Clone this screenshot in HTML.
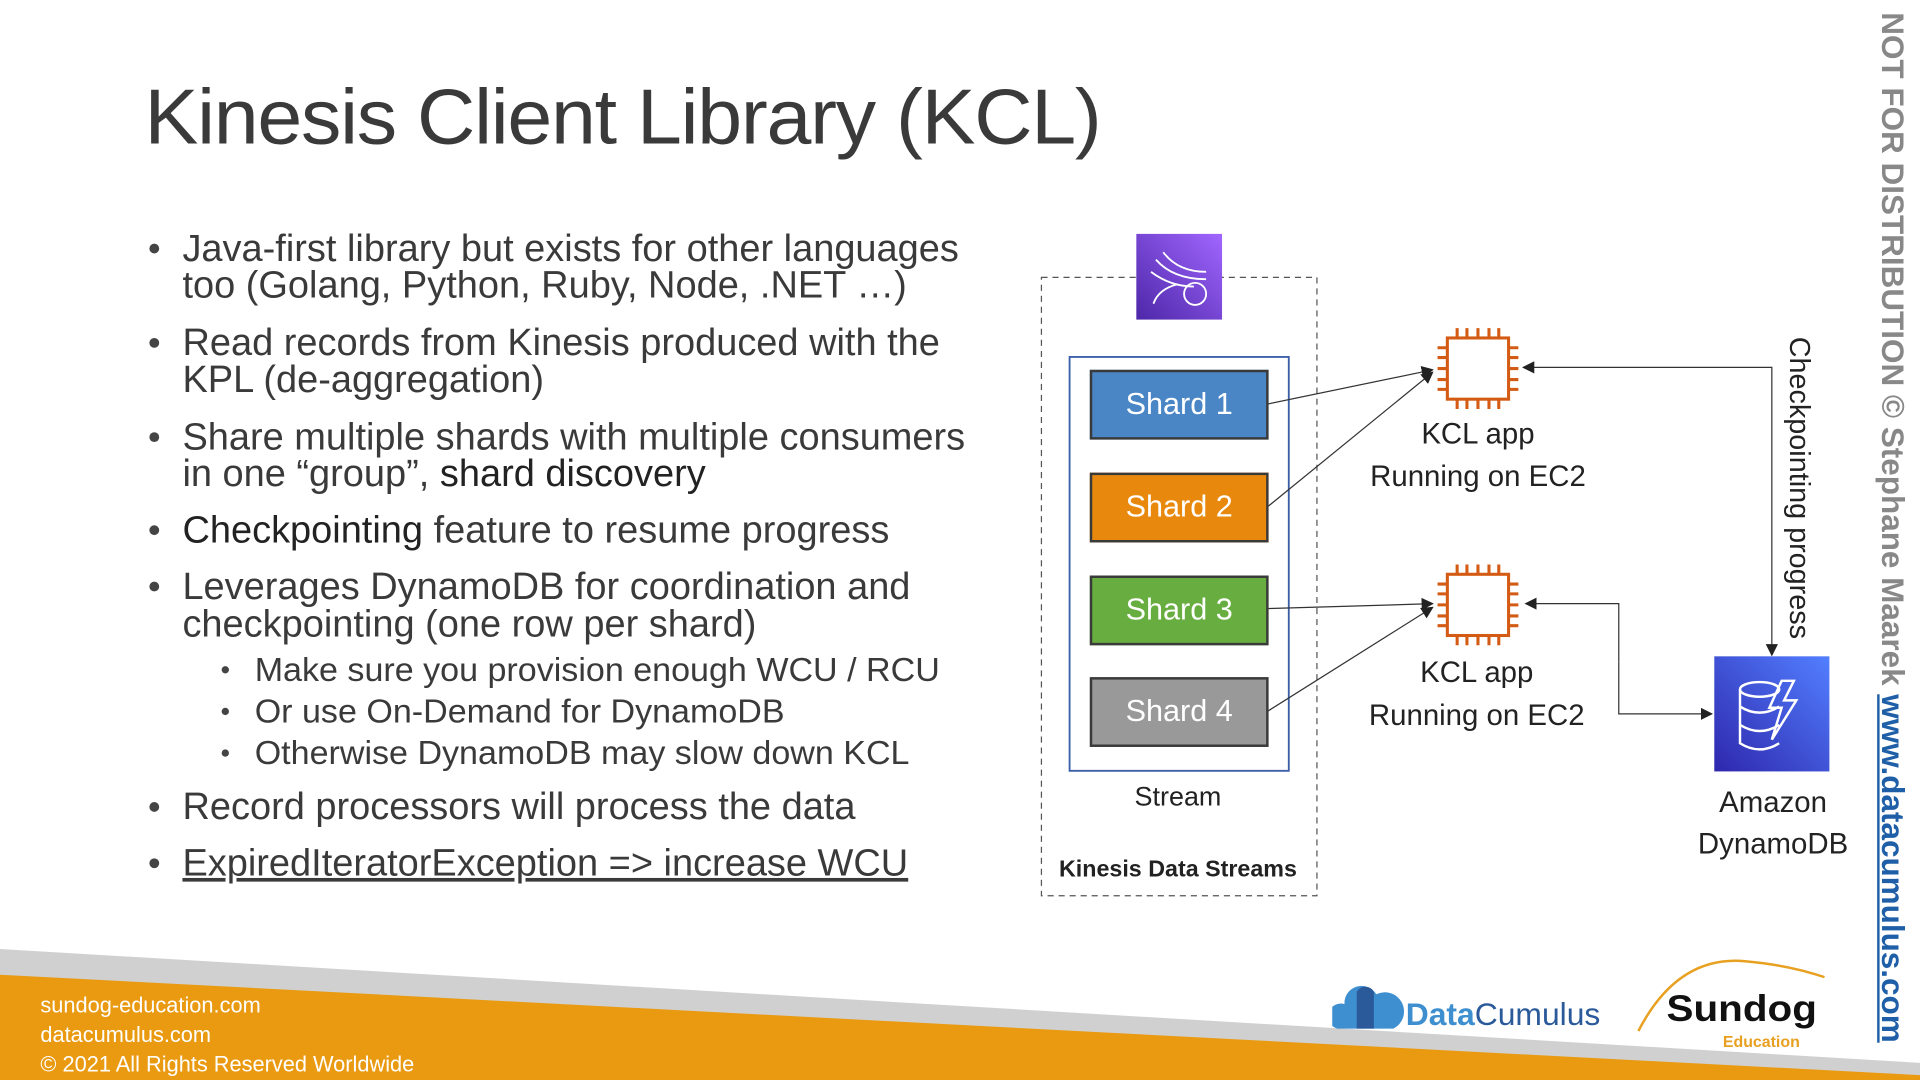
<!DOCTYPE html>
<html><head><meta charset="utf-8"><style>
html,body{margin:0;padding:0;background:#fff;width:1920px;height:1080px;overflow:hidden}
#w{position:absolute;left:0;top:0;width:1568px;height:882px;transform:scale(1.22449);transform-origin:0 0;font-family:"Liberation Sans",sans-serif;color:#333}
.a{position:absolute;white-space:nowrap}
.l{position:absolute;white-space:nowrap;font-size:31px;transform:scaleX(1.0);transform-origin:0 50%;line-height:36px;color:#3a3a3a}
.s{font-size:27px;transform:scaleX(1.03)}
.dot{position:absolute;width:8px;height:8px;border-radius:50%;background:#444}
.sd{position:absolute;width:6px;height:6px;border-radius:50%;background:#444}
.sh{position:absolute;left:890px;width:142px;height:53px;border:2px solid #3a3a3a;color:#fff;font-size:25px;text-align:center;line-height:53px}
.c{position:absolute;text-align:center;font-size:24px;color:#222;white-space:nowrap;transform:translateX(-50%)}
</style></head><body><div id="w">
<div class="a" style="left:118px;top:58px;font-size:64px;color:#3a3a3a;transform:scaleX(1.03);transform-origin:0 0;letter-spacing:-1px">Kinesis Client Library (KCL)</div>

<div class="dot" style="left:122px;top:199px"></div>
<div class="l" style="left:149px;top:185px">Java-first library but exists for other languages</div>
<div class="l" style="left:149px;top:215px">too (Golang, Python, Ruby, Node, .NET …)</div>
<div class="dot" style="left:122px;top:276px"></div>
<div class="l" style="left:149px;top:262px">Read records from Kinesis produced with the</div>
<div class="l" style="left:149px;top:292px">KPL (de-aggregation)</div>
<div class="dot" style="left:122px;top:353px"></div>
<div class="l" style="left:149px;top:339px">Share multiple shards with multiple consumers</div>
<div class="l" style="left:149px;top:369px">in one “group”, <span style="color:#222">shard discovery</span></div>
<div class="dot" style="left:122px;top:429px"></div>
<div class="l" style="left:149px;top:415px"><span style="color:#222">Checkpointing</span> feature to resume progress</div>
<div class="dot" style="left:122px;top:475px"></div>
<div class="l" style="left:149px;top:461px">Leverages DynamoDB for coordination and</div>
<div class="l" style="left:149px;top:492px">checkpointing (one row per shard)</div>
<div class="sd" style="left:181px;top:544px"></div>
<div class="l s" style="left:208px;top:529px">Make sure you provision enough WCU / RCU</div>
<div class="sd" style="left:181px;top:578px"></div>
<div class="l s" style="left:208px;top:563px">Or use On-Demand for DynamoDB</div>
<div class="sd" style="left:181px;top:612px"></div>
<div class="l s" style="left:208px;top:597px">Otherwise DynamoDB may slow down KCL</div>
<div class="dot" style="left:122px;top:655px"></div>
<div class="l" style="left:149px;top:641px">Record processors will process the data</div>
<div class="dot" style="left:122px;top:701px"></div>
<div class="l" style="left:149px;top:687px;text-decoration:underline">ExpiredIteratorException =&gt; increase WCU</div>

<svg class="a" style="left:0;top:0" width="1568" height="882">
<defs><marker id="ar" markerWidth="10" markerHeight="10" refX="9" refY="5" orient="auto" markerUnits="userSpaceOnUse"><path d="M0,0 L10,5 L0,10 z" fill="#222"/></marker>
<linearGradient id="kg" x1="0" y1="1" x2="1" y2="0"><stop offset="0" stop-color="#4d27a8"/><stop offset="1" stop-color="#a166ff"/></linearGradient>
<linearGradient id="dg" x1="0" y1="1" x2="1" y2="0"><stop offset="0" stop-color="#2e27ad"/><stop offset="1" stop-color="#527fff"/></linearGradient></defs>
<polygon points="0,775 1568,868 1568,882 0,882" fill="#d0d0d0"/>
<polygon points="0,796 1568,878 1568,882 0,882" fill="#ea9a10"/>
<rect x="850.5" y="226.5" width="225" height="505" fill="none" stroke="#555" stroke-dasharray="5,4"/>
<rect x="928" y="191" width="70" height="70" fill="url(#kg)"/>
<g fill="none" stroke="#fff" stroke-width="1.5"><path d="M950,206 Q962,222 985,222"/><path d="M944,212 Q958,228 985,228"/><path d="M940,222 Q956,234 975,234"/><path d="M942,248 Q946,236 962,232"/><circle cx="976" cy="240" r="9"/></g>
<rect x="873.5" y="291.5" width="179" height="338" fill="none" stroke="#3a5ea8" stroke-width="1.5"/>
<g stroke="#333" stroke-width="1" fill="none" marker-end="url(#ar)">
<line x1="1035" y1="330" x2="1170" y2="302"/>
<line x1="1035" y1="414" x2="1170" y2="304"/>
<line x1="1035" y1="497" x2="1170" y2="493"/>
<line x1="1035" y1="581" x2="1170" y2="496"/>
<polyline points="1447,450 1447,300 1244,300"/>
<polyline points="1447,450 1447,535"/>
<polyline points="1322,540 1322,493 1246,493"/>
<polyline points="1322,540 1322,583 1398,583"/>
</g>
<g fill="none" stroke="#d45b14" stroke-width="2.5">
<rect x="1182" y="276" width="50" height="50"/>
<path d="M1190,276v-8M1198,276v-8M1207,276v-8M1216,276v-8M1224,276v-8M1190,326v8M1198,326v8M1207,326v8M1216,326v8M1224,326v8M1182,284h-8M1182,292h-8M1182,301h-8M1182,310h-8M1182,318h-8M1232,284h8M1232,292h8M1232,301h8M1232,310h8M1232,318h8"/>
<rect x="1182" y="469" width="50" height="50"/>
<path d="M1190,469v-8M1198,469v-8M1207,469v-8M1216,469v-8M1224,469v-8M1190,519v8M1198,519v8M1207,519v8M1216,519v8M1224,519v8M1182,477h-8M1182,485h-8M1182,494h-8M1182,503h-8M1182,511h-8M1232,477h8M1232,485h8M1232,494h8M1232,503h8M1232,511h8"/>
</g>
<rect x="1400" y="536" width="94" height="94" fill="url(#dg)"/>
<g fill="none" stroke="#fff" stroke-width="2"><ellipse cx="1437" cy="563" rx="16" ry="6"/><path d="M1421,563v44q16,10 32,0"/><path d="M1421,577q16,10 32,0M1421,592q16,10 32,0"/><path d="M1455,556l-10,22h10l-8,26 20-32h-10l8-16z"/></g>
</svg>

<div class="sh" style="top:302px;background:#4a86c5">Shard 1</div>
<div class="sh" style="top:386px;background:#e8890e">Shard 2</div>
<div class="sh" style="top:470px;background:#67ad3f">Shard 3</div>
<div class="sh" style="top:553px;background:#999">Shard 4</div>
<div class="c" style="left:962px;top:638px;font-size:22px">Stream</div>
<div class="c" style="left:962px;top:700px;font-size:19px;font-weight:bold">Kinesis Data Streams</div>
<div class="c" style="left:1207px;top:341px">KCL app</div>
<div class="c" style="left:1207px;top:376px">Running on EC2</div>
<div class="c" style="left:1206px;top:536px">KCL app</div>
<div class="c" style="left:1206px;top:571px">Running on EC2</div>
<div class="c" style="left:1448px;top:642px">Amazon</div>
<div class="c" style="left:1448px;top:676px">DynamoDB</div>
<div class="a" style="left:1457px;top:275px;font-size:23.5px;color:#222;transform-origin:0 0;transform:rotate(90deg) translateY(-26px)">Checkpointing progress</div>
<div class="a" style="left:1530px;top:10px;font-size:25.7px;font-weight:bold;color:#888;transform-origin:0 0;transform:rotate(90deg) translateY(-29px)">NOT FOR DISTRIBUTION © Stephane Maarek <span style="color:#1f5fa8;text-decoration:underline">www.datacumulus.com</span></div>

<div class="a" style="left:33px;top:811px;font-size:17.8px;color:#fff">sundog-education.com</div>
<div class="a" style="left:33px;top:835px;font-size:17.8px;color:#fff">datacumulus.com</div>
<div class="a" style="left:33px;top:859px;font-size:17.8px;color:#fff">© 2021 All Rights Reserved Worldwide</div>
<svg class="a" style="left:1088px;top:800px" width="70" height="45"><path d="M4,40 a10,10 0 0 1 6,-20 a14,14 0 0 1 26,-8 a10,10 0 0 1 14,28 z" fill="#3e8fd0"/><path d="M20,40 v-30 a8,8 0 0 1 14,0 v30 z" fill="#2a5a9a"/></svg>
<div class="a" style="left:1148px;top:813px;font-size:26px;font-weight:bold;color:#3e8fd0">Data<span style="color:#2a5a9a;font-weight:normal">Cumulus</span></div>
<svg class="a" style="left:1330px;top:780px" width="170" height="70"><path d="M8,62 Q40,0 95,5 Q130,8 160,18" fill="none" stroke="#e8a020" stroke-width="2"/></svg>
<div class="a" style="left:1361px;top:808px;font-size:30px;font-weight:bold;color:#111;transform:scaleX(1.1);transform-origin:0 0">Sundog</div>
<div class="a" style="left:1407px;top:843px;font-size:13px;font-weight:bold;color:#e8a020">Education</div>
</div></body></html>
